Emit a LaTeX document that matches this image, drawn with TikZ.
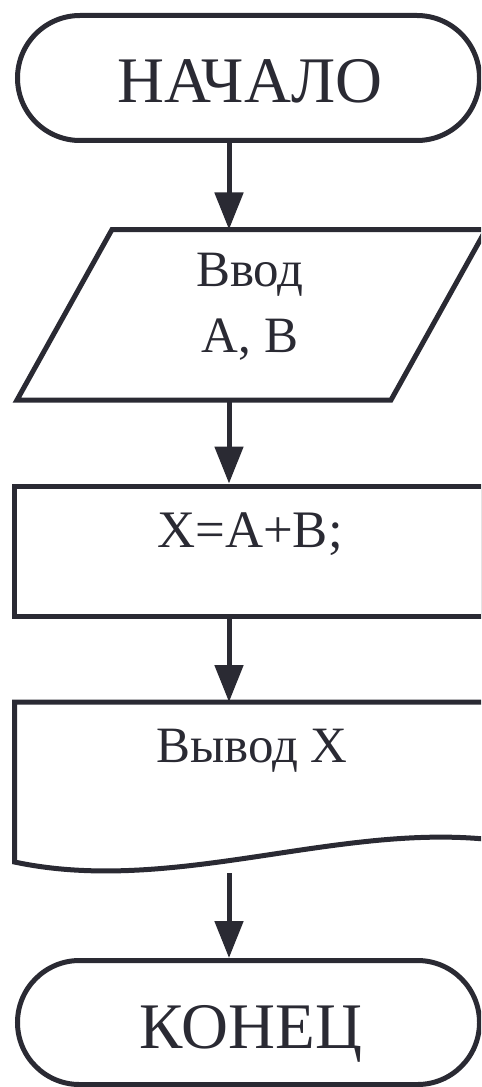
\documentclass[tikz,border=0pt]{standalone}
\usepackage{fontspec}
\setmainfont{Liberation Serif}
\usetikzlibrary{positioning, arrows.meta, shapes.geometric, shapes.misc}
\definecolor{ink}{HTML}{2A2A33}

\begin{document}
\begin{tikzpicture}[x=0.2mm, y=-0.2mm,
      shp/.style={draw=ink, line width=1mm},
      term/.style={shp, rounded rectangle, inner sep=0pt,
          minimum width=92.4mm, minimum height=25mm},
      proc/.style={shp, rectangle, inner sep=0pt,
          minimum width=93.9mm, minimum height=26mm},
      lbl/.style={text=ink, anchor=base, inner sep=0pt,
          font=\fontsize{29}{37}\selectfont},
      big/.style={font=\fontsize{37}{40}\selectfont},
      arr/.style={draw=ink, line width=1mm,
          -{Triangle[length=7.4mm, width=5.6mm]}},
    ]

    % ---- Frame (the right side of the chart is cut off) ----
    \useasboundingbox (0,0) rectangle (481,1087);
    \clip (0,0) rectangle (481,1087);
    \coordinate (ax) at (229,0);   % axis of the connectors

    % ---- Start ----
    \node[term] (start) at (248.5,78) {};
    \node[lbl, big] (tstart) at (250,103) {НАЧАЛО};

    % ---- Input (parallelogram) ----
    \draw[shp] (17,400) -- (112,229.5) -- (486,229.5) -- (391,400) -- cycle;
    \coordinate (intop) at (229,229.5);
    \coordinate (inbot) at (229,400);
    \node[lbl, align=center] (tinp) at (250,352) {Ввод\\A, B};

    % ---- Process ----
    \node[proc] (calc) at (249,551) {};
    \node[lbl, font=\fontsize{30}{36}\selectfont] (tcalc) at (250,547) {X=A+B;};

    % ---- Output (document shape) ----
    \draw[shp] (14.5,862) -- (14.5,702) -- (484,702) -- (484,839)
    .. controls (330,825) and (170,895) .. (14.5,862) -- cycle;
    \node[lbl] (tout) at (252,762) {Вывод X};
    \coordinate (outtop) at (229,702);
    \coordinate (outbot) at (229,873);

    % ---- End ----
    \node[term, minimum height=24.8mm] (stop) at (248.5,1022.5) {};
    \node[lbl, big] (tstop) at (251,1048) {КОНЕЦ};

    % ---- Connectors ----
    \draw[arr] (start.south -| ax) -- (intop);
    \draw[arr] (inbot) -- (calc.north -| ax);
    \draw[arr] (calc.south -| ax) -- (outtop);
    \draw[arr] (outbot) -- (stop.north -| ax);

  \end{tikzpicture}
\end{document}
